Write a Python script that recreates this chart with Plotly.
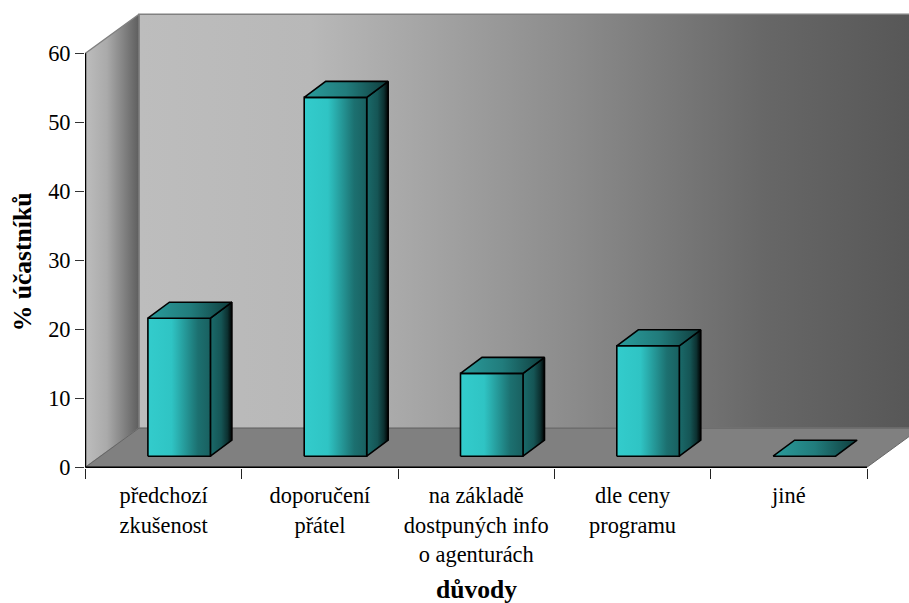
import plotly.graph_objects as go

# Survey data: reasons for choosing the programme, share of participants in %
categories = ["předchozí<br>zkušenost", "doporučení<br>přátel",
              "na základě<br>dostpuných info<br>o agenturách", "dle ceny<br>programu", "jiné"]
shares = [20, 52, 12, 16, 0]
y_ticks = [0, 10, 20, 30, 40, 50, 60]
x_title = "důvody"
y_title = "% účastníků"

FONT = "Liberation Serif"
W, H = 909, 603
LEFT, BASE = 85.5, 467.2          # pixel position of the axis origin
PX_X, PX_Y = 156.3, 6.9           # pixels per category / per percentage point

# oblique projection of the 3D box, in axis units
WALL_DX, WALL_DY = 53.5 / PX_X, 39 / PX_Y
BAR_DX, BAR_DY = 21.5 / PX_X, 16 / PX_Y
FLOOR_DX, FLOOR_DY = 15.5 / PX_X, 11 / PX_Y
BAR_W = 62.5 / PX_X
N = len(categories)
Y_MAX = max(y_ticks)


def poly(xs, ys, stops=None, fill=None, line="black", width=1.6):
    t = dict(x=list(xs) + [xs[0]], y=list(ys) + [ys[0]], mode="lines", fill="toself",
             line=dict(color=line, width=width), hoverinfo="skip", showlegend=False)
    if stops:
        t["fillgradient"] = dict(type="horizontal", colorscale=stops)
    else:
        t["fillcolor"] = fill
    return go.Scatter(**t)


back_wall = [[0, "#bdbdbd"], [0.22, "#b8b8b8"], [0.55, "#8c8c8c"], [0.8, "#676767"], [1, "#565656"]]
side_wall = [[0, "#bdbdbd"], [0.4, "#aaaaaa"], [1, "#5e5e5e"]]
bar_front = [[0, "#33cccc"], [0.38, "#2fc4c4"], [0.8, "#1c7070"], [1, "#196060"]]
bar_side = [[0, "#1a6a6a"], [0.5, "#155555"], [0.8, "#0c3030"], [1, "#000000"]]
bar_top = [[0, "#2a9c9c"], [0.5, "#217c7c"], [1, "#0f3c3c"]]

fig = go.Figure()

# Chart box: back wall, left wall and floor
fig.add_trace(poly([WALL_DX, N + WALL_DX, N + WALL_DX, WALL_DX],
                   [WALL_DY, WALL_DY, Y_MAX + WALL_DY, Y_MAX + WALL_DY],
                   stops=back_wall, line="#808080", width=1.4))
fig.add_trace(poly([0, WALL_DX, WALL_DX, 0],
                   [0, WALL_DY, Y_MAX + WALL_DY, Y_MAX],
                   stops=side_wall, line="#808080", width=1.4))
fig.add_trace(poly([0, N, N + WALL_DX, WALL_DX],
                   [0, 0, WALL_DY, WALL_DY],
                   fill="#808080", line="#666666", width=1))

# Bars: each is a front face, a top face and a right side face
for i, value in enumerate(shares):
    x0 = i + 0.5 + FLOOR_DX - BAR_W / 2
    x1 = x0 + BAR_W
    y0 = FLOOR_DY
    y1 = FLOOR_DY + value
    if value > 0:
        fig.add_trace(poly([x1, x1 + BAR_DX, x1 + BAR_DX, x1],
                           [y0, y0 + BAR_DY, y1 + BAR_DY, y1], stops=bar_side))
        fig.add_trace(poly([x0, x1, x1, x0], [y0, y0, y1, y1], stops=bar_front))
    fig.add_trace(poly([x0, x1, x1 + BAR_DX, x0 + BAR_DX],
                       [y1, y1, y1 + BAR_DY, y1 + BAR_DY], stops=bar_top))

# Axis lines stop at the ends of the scales, unlike the subplot edges
fig.add_trace(go.Scatter(x=[0, 0], y=[0, Y_MAX], mode="lines", cliponaxis=False,
                         line=dict(color="black", width=1.4), hoverinfo="skip", showlegend=False))
fig.add_trace(go.Scatter(x=[0, N], y=[0, 0], mode="lines", cliponaxis=False,
                         line=dict(color="black", width=1.4), hoverinfo="skip", showlegend=False))

M_L, M_B = 85, H - 468
PLOT_H = H - M_B
fig.update_layout(
    width=W, height=H,
    margin=dict(l=M_L, r=0, t=0, b=M_B, pad=0),
    paper_bgcolor="white", plot_bgcolor="white",
    font=dict(family=FONT, size=22.4, color="black"),
    xaxis=dict(
        range=[(M_L - LEFT) / PX_X, (W - LEFT) / PX_X],
        tickmode="array", tickvals=[i + 0.5 for i in range(N)], ticktext=categories,
        ticks="", showgrid=False, zeroline=False, showline=False,
        tickangle=0, ticklabelstandoff=12,
        minor=dict(tickmode="array", tickvals=list(range(N + 1)), ticks="outside",
                   ticklen=10, tickwidth=1.4, tickcolor="#222222", showgrid=False),
    ),
    yaxis=dict(
        range=[(BASE - PLOT_H) / PX_Y, BASE / PX_Y],
        tickmode="array", tickvals=y_ticks, ticktext=[str(v) for v in y_ticks],
        ticks="outside", ticklen=9, tickwidth=1.4, tickcolor="#333333",
        showgrid=False, zeroline=False, showline=False,
    ),
    annotations=[
        dict(text=f"<b>{x_title}</b>", xref="x", yref="paper", x=N / 2, y=-(589.5 - PLOT_H) / PLOT_H,
             xanchor="center", yanchor="middle", showarrow=False, font=dict(size=25.6)),
        dict(text=f"<b>{y_title}</b>", xref="paper", yref="y", x=-(85 - 22) / (W - 85), y=29.7,
             xanchor="center", yanchor="middle", textangle=-90, showarrow=False, font=dict(size=25.6)),
    ],
)

fig.write_html("out.html")
